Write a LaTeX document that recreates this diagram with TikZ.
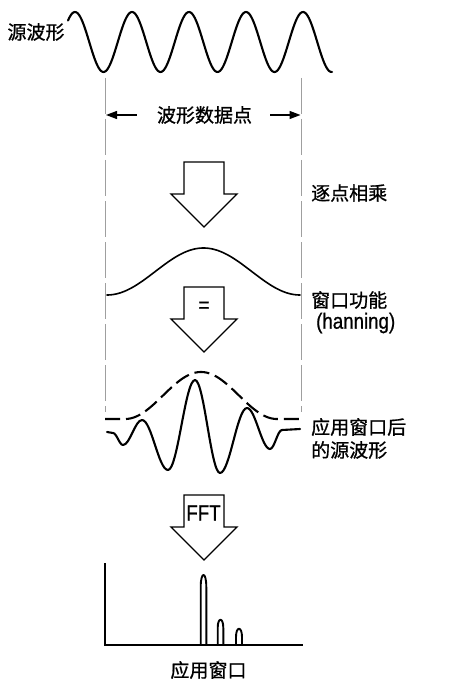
\documentclass[tikz,border=0pt]{standalone}
\usepackage{fontspec}
\newfontfamily\cjk[RawFeature={embolden=0.9}]{Noto Sans CJK SC}
\newfontfamily\lat[FakeStretch=0.85,RawFeature={embolden=0.8}]{Liberation Sans}
\usetikzlibrary{arrows.meta}
\tikzset{
  wave/.style={line width=2.1pt, line cap=round, line join=round},
  hann/.style={line width=1.6pt, line cap=round},
  env/.style={line width=2.1pt, dash pattern=on 15pt off 6pt},
  guide/.style={gray!75, line width=0.9pt, dash pattern=on 36pt off 5pt},
  blk/.style={line width=1.3pt, line join=miter, fill=white},
  dimarrow/.style={line width=1.3pt, -{Triangle[length=11pt,width=8pt]}},
  axisline/.style={line width=1.4pt},
  lobe/.style={line width=1.9pt, line join=round},
  lbl/.style={font=\cjk\fontsize{19pt}{23pt}\selectfont, inner sep=0pt},
  latlbl/.style={font=\lat\fontsize{22pt}{24pt}\selectfont, inner sep=0pt},
  pics/blockarrow/.style={code={
    \draw[blk] (-20,0) -- (20,0) -- (20,32) -- (33,32) -- (0,65)
      -- (-33,32) -- (-20,32) -- cycle;
  }}
}
\begin{document}
\begin{tikzpicture}[x=1pt,y=-1pt]
\useasboundingbox (0,0) rectangle (453,679);

% guide lines
\coordinate (gl1) at (105.5,78);
\coordinate (gl2) at (105.5,412);
\coordinate (gr1) at (301,78);
\coordinate (gr2) at (301,412);
\draw[guide] (gl1) -- (gl2);
\draw[guide] (gr1) -- (gr2);

% source wave
\draw[wave] plot[domain=68:332, samples=240] (\x,{42-30*cos((\x-75)*6.3158)});
\node[lbl] (src) at (36,32) {源波形};

% data points
\node[lbl] (dp) at (204.5,115) {波形数据点};
\coordinate (aL) at (106,115);
\coordinate (aR) at (300.5,115);
\draw[dimarrow] ([xshift=-20pt]dp.west) -- (aL);
\draw[dimarrow] ([xshift=18pt]dp.east) -- (aR);

% arrow 1
\pic at (204,162) {blockarrow};
\node[lbl, anchor=west] (mul) at (311,193) {逐点相乘};

% hanning window
\draw[hann] plot[domain=107:300, samples=150] (\x,{295-23.5*(1-cos((\x-107)*1.8653))});
\node[lbl, anchor=west] (win) at (311,300) {窗口功能};
\node[latlbl, anchor=west] (han) at (316,323) {(hanning)};

% arrow 2
\pic at (204,287) {blockarrow};
\node[latlbl] (eq) at (204,307) {=};

% windowed wave: envelope
\draw[env] (105,419) -- (125,419) -- plot[domain=125:277, samples=120] (\x,{419-23.5*(1-cos((\x-125)*2.3684))}) -- (300,419);
% windowed wave: signal
\draw[wave] (107,432) -- (113,433)
  .. controls +(3.6,0) and +(-3.6,0) .. (123,445)
  .. controls +(6.9,0) and +(-6.9,0) .. (142,420)
  .. controls +(9.5,0) and +(-9.5,0) .. (168,470)
  .. controls +(9.8,0) and +(-9.8,0) .. (195,380)
  .. controls +(9.1,0) and +(-9.1,0) .. (220,473)
  .. controls +(9.8,0) and +(-9.8,0) .. (247,408)
  .. controls +(8.4,0) and +(-8.4,0) .. (270,449)
  .. controls +(4.4,0) and +(-4.4,0) .. (282,430)
  -- (300,429);
\node[lbl, anchor=west] (ww1) at (311,427) {应用窗口后};
\node[lbl, anchor=west] (ww2) at (311,450) {的源波形};

% arrow 3
\pic at (204,495) {blockarrow};
\node[latlbl] (fft) at (203.5,513) {FFT};

% spectrum
\coordinate (ax0) at (105,645);
\draw[axisline] (105,563) -- (ax0) -- (303,645);
\draw[lobe] (200.7,645) -- (200.7,587) .. controls (200.7,571) and (206.3,571) .. (206.3,587) -- (206.3,645);
\draw[lobe] (217.7,645) -- (217.7,628) .. controls (217.7,617) and (223.3,617) .. (223.3,628) -- (223.3,645);
\draw[lobe] (236,645) -- (236,637) .. controls (236,626) and (242,626) .. (242,637) -- (242,645);
\node[lbl] (spec) at (208.5,670) {应用窗口};
\end{tikzpicture}
\end{document}
